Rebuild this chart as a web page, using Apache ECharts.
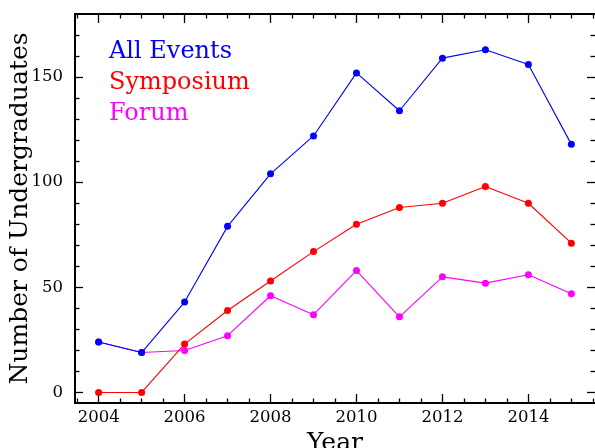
<!DOCTYPE html>
<html><head><meta charset="utf-8">
<script src="https://cdn.jsdelivr.net/npm/echarts@6/dist/echarts.min.js"></script>
<style>html,body{margin:0;padding:0;background:#fff}#c{width:595px;height:448px}</style>
</head><body><div id="c"></div>
<script>
const years = [2004, 2005, 2006, 2007, 2008, 2009, 2010, 2011, 2012, 2013, 2014, 2015];
const allEvents = [24, 19, 43, 79, 104, 122, 152, 134, 159, 163, 156, 118];
const symposium = [0, 0, 23, 39, 53, 67, 80, 88, 90, 98, 90, 71];
const forum = [24, 19, 20, 27, 46, 37, 58, 36, 55, 52, 56, 47];
const xMajorTicks = [2004, 2006, 2008, 2010, 2012, 2014];
const xMinorTicks = [2003.5, 2004.5, 2005, 2005.5, 2006.5, 2007, 2007.5, 2008.5, 2009, 2009.5, 2010.5, 2011, 2011.5, 2012.5, 2013, 2013.5, 2014.5, 2015, 2015.5];
const yMajorTicks = [0, 50, 100, 150];
const yMinorTicks = [10, 20, 30, 40, 60, 70, 80, 90, 110, 120, 130, 140, 160, 170];

const FONT = 'DejaVu Serif';
const X_MIN = 2003.45, X_MAX = 2015.55, Y_MIN = -5, Y_MAX = 180;
const black = '#000';

function xAx(pos, ticks, len, main) {
  return {
    type: 'value', gridIndex: 0, position: pos, min: X_MIN, max: X_MAX,
    axisLine: { show: main, onZero: false, lineStyle: { color: black, width: 2 } },
    axisTick: { show: true, inside: true, length: len, customValues: ticks, lineStyle: { color: black, width: 1.3 } },
    axisLabel: main && pos === 'bottom'
      ? { show: true, customValues: ticks, formatter: v => String(v), color: black, fontFamily: FONT, fontSize: 16.5, margin: 6 }
      : { show: false },
    splitLine: { show: false },
    name: main && pos === 'bottom' ? 'Year' : '',
    nameLocation: 'middle', nameGap: 24,
    nameTextStyle: { color: black, fontFamily: FONT, fontSize: 25 }
  };
}
function yAx(pos, ticks, len, main) {
  return {
    type: 'value', gridIndex: 0, position: pos, min: Y_MIN, max: Y_MAX,
    axisLine: { show: main && pos === 'left', onZero: false, lineStyle: { color: black, width: 2 } },
    axisTick: { show: true, inside: true, length: len, customValues: ticks, lineStyle: { color: black, width: 1.3 } },
    axisLabel: main && pos === 'left'
      ? { show: true, customValues: ticks, formatter: v => String(v), color: black, fontFamily: FONT, fontSize: 16.5, margin: 12 }
      : { show: false },
    splitLine: { show: false },
    name: main && pos === 'left' ? 'Number of Undergraduates' : '',
    nameLocation: 'middle', nameGap: 42, nameMoveOverlap: false,
    nameTextStyle: { color: black, fontFamily: FONT, fontSize: 25 }
  };
}
function pts(vals) { return years.map((y, i) => [y, vals[i]]); }
function line(name, vals, color, z) {
  return {
    name, type: 'line', xAxisIndex: 0, yAxisIndex: 0, data: pts(vals), z,
    symbol: 'circle', symbolSize: 7, showSymbol: true,
    itemStyle: { color }, lineStyle: { color, width: 1.1 }, emphasis: { disabled: true }
  };
}

const chart = echarts.init(document.getElementById('c'), null, { renderer: 'canvas' });
chart.setOption({
  animation: false,
  backgroundColor: '#fff',
  grid: { left: 75, right: 0, top: 14, bottom: 45, containLabel: false, outerBoundsMode: 'none' },
  xAxis: [
    xAx('bottom', xMajorTicks, 9, true),
    xAx('bottom', xMinorTicks, 4.5, false),
    xAx('top', xMajorTicks, 9, true),
    xAx('top', xMinorTicks, 4.5, false)
  ],
  yAxis: [
    yAx('left', yMajorTicks, 8, true),
    yAx('left', yMinorTicks, 4.5, false),
    yAx('right', yMajorTicks, 8, true),
    yAx('right', yMinorTicks, 4.5, false)
  ],
  legend: {
    orient: 'vertical', left: 99, top: 35, itemGap: 7,
    icon: 'none', itemWidth: 0, itemHeight: 14, selectedMode: false,
    textStyle: { fontFamily: FONT, fontSize: 24 },
    data: [
      { name: 'All Events', textStyle: { color: '#0000ff' } },
      { name: 'Symposium', textStyle: { color: '#ff0000' } },
      { name: 'Forum', textStyle: { color: '#ff00ff' } }
    ]
  },
  series: [
    line('Forum', forum, '#ff00ff', 2),
    line('Symposium', symposium, '#ff0000', 3),
    line('All Events', allEvents, '#0000ff', 4)
  ]
});
</script></body></html>
